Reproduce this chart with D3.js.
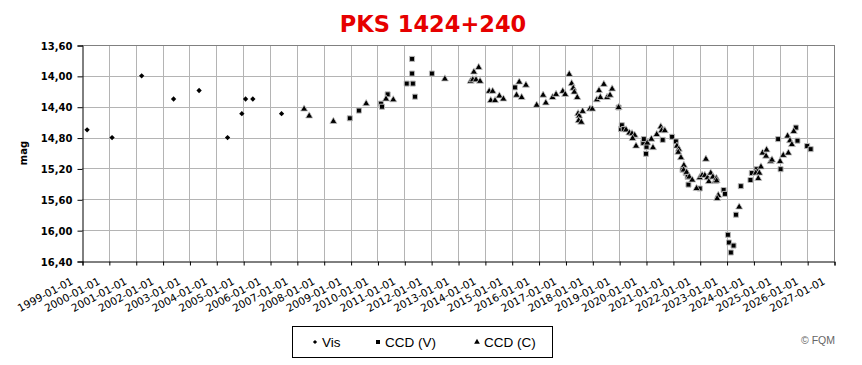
<!DOCTYPE html>
<html>
<head>
<meta charset="utf-8">
<script src="https://cdn.jsdelivr.net/npm/d3@7"></script>
<style>
  body { margin: 0; background: #fff; }
  svg { display: block; }
</style>
</head>
<body>
<svg width="862" height="365"></svg>
<script>
// values: [decimal year, magnitude]
const visData = [
  [1999.19, 14.70], [2000.12, 14.80], [2001.22, 14.00], [2002.41, 14.30], [2003.36, 14.19],
  [2004.42, 14.80], [2004.95, 14.49], [2005.09, 14.30], [2005.36, 14.30], [2006.43, 14.49]
];

const ccdV = [
  [2008.97, 14.55], [2009.31, 14.45], [2010.13, 14.36], [2010.17, 14.40], [2010.38, 14.24],
  [2011.09, 14.10], [2011.29, 13.78], [2011.29, 13.97], [2011.32, 14.10], [2011.40, 14.27],
  [2012.03, 13.97], [2015.12, 14.15], [2018.98, 14.41], [2019.07, 14.69], [2019.10, 14.64],
  [2019.17, 14.69], [2019.90, 14.87], [2019.92, 14.82], [2020.00, 15.01], [2020.02, 14.92],
  [2020.62, 14.83], [2020.97, 14.79], [2021.11, 14.85], [2021.36, 15.22], [2021.48, 15.26],
  [2021.55, 15.31], [2021.58, 15.41], [2022.00, 15.46], [2022.89, 15.48], [2022.94, 15.53],
  [2023.05, 16.06], [2023.09, 16.16], [2023.16, 16.29], [2023.26, 16.20], [2023.35, 15.80],
  [2023.53, 15.43], [2023.89, 15.35], [2023.94, 15.26], [2024.12, 15.21], [2024.92, 14.82],
  [2025.01, 15.21], [2025.58, 14.67], [2025.64, 14.84], [2026.00, 14.91], [2026.13, 14.95]
];

const ccdC = [
  [2007.27, 14.43], [2007.46, 14.52], [2008.36, 14.59], [2009.58, 14.36], [2010.32, 14.30],
  [2010.59, 14.31], [2012.51, 14.04], [2013.47, 14.07], [2013.55, 14.05], [2013.59, 13.95],
  [2013.67, 14.05], [2013.77, 13.89], [2013.82, 14.07], [2014.16, 14.20], [2014.29, 14.20],
  [2014.22, 14.32], [2014.38, 14.32], [2014.54, 14.26], [2014.69, 14.30], [2015.28, 14.08],
  [2015.18, 14.25], [2015.37, 14.28], [2015.53, 14.12], [2015.93, 14.38], [2016.17, 14.25],
  [2016.27, 14.35], [2016.52, 14.28], [2016.65, 14.24], [2016.90, 14.20], [2016.99, 14.24],
  [2017.14, 13.98], [2017.23, 14.10], [2017.29, 14.16], [2017.33, 14.21], [2017.44, 14.28],
  [2017.47, 14.49], [2017.51, 14.52], [2017.49, 14.58], [2017.59, 14.60], [2017.64, 14.46],
  [2017.91, 14.43], [2018.00, 14.43], [2018.17, 14.31], [2018.25, 14.19], [2018.30, 14.28],
  [2018.43, 14.11], [2018.55, 14.28], [2018.66, 14.25], [2018.74, 14.17], [2018.98, 14.41],
  [2019.26, 14.70], [2019.38, 14.74], [2019.48, 14.75], [2019.58, 14.77], [2019.50, 14.81],
  [2019.63, 14.91], [2020.05, 14.87], [2020.20, 14.82], [2020.26, 14.93], [2020.40, 14.76],
  [2020.55, 14.66], [2020.58, 14.71], [2020.70, 14.71], [2021.15, 14.91], [2021.22, 14.95],
  [2021.20, 14.99], [2021.30, 15.06], [2021.41, 15.16], [2021.40, 15.22], [2021.51, 15.25],
  [2021.61, 15.31], [2021.72, 15.35], [2021.88, 15.46], [2022.00, 15.32], [2022.09, 15.29],
  [2022.23, 15.08], [2022.19, 15.29], [2022.29, 15.32], [2022.41, 15.26], [2022.34, 15.37],
  [2022.49, 15.31], [2022.57, 15.37], [2022.62, 15.33], [2022.63, 15.36], [2022.69, 15.55],
  [2022.65, 15.59], [2023.47, 15.70], [2024.09, 15.26], [2024.22, 15.26], [2024.18, 15.33],
  [2024.28, 15.18], [2024.34, 15.00], [2024.49, 14.96], [2024.47, 15.04], [2024.64, 15.11],
  [2024.69, 15.09], [2024.99, 15.11], [2025.11, 15.03], [2025.30, 15.00], [2025.27, 14.78],
  [2025.36, 14.84], [2025.43, 14.89], [2025.50, 14.72]
];

const yTicks = [13.6, 14.0, 14.4, 14.8, 15.2, 15.6, 16.0, 16.4];
const legendLabels = ['Vis', 'CCD (V)', 'CCD (C)'];

const svg = d3.select('svg');

const plotLeft = 82, plotRight = 834, plotTop = 45, plotBottom = 261;

// decimal year -> Date
const toDate = v => {
  const yr = Math.floor(v);
  const a = Date.UTC(yr, 0, 1), b = Date.UTC(yr + 1, 0, 1);
  return new Date(a + (v - yr) * (b - a));
};

const x = d3.scaleUtc()
  .domain([new Date(Date.UTC(1999, 0, 1)), new Date(Date.UTC(2027, 0, 1))])
  .range([plotLeft, plotRight]);

const y = d3.scaleLinear().domain([13.6, 16.4]).range([plotTop, plotBottom]);

const years = d3.utcYear.range(new Date(Date.UTC(1999, 0, 1)), new Date(Date.UTC(2027, 0, 2)));

// title
svg.append('text')
  .attr('x', 433)
  .attr('y', 31.5)
  .attr('text-anchor', 'middle')
  .style('font-family', 'DejaVu Sans, Verdana, sans-serif')
  .style('font-weight', 'bold')
  .style('font-size', '22.5px')
  .style('fill', '#e60000')
  .text('PKS 1424+240');

// grid
const grid = svg.append('g').attr('class', 'grid');

grid.selectAll('line.v')
  .data(years.slice(1))
  .enter()
  .append('line')
  .attr('x1', d => Math.round(x(d)) + 0.5)
  .attr('x2', d => Math.round(x(d)) + 0.5)
  .attr('y1', plotTop)
  .attr('y2', plotBottom)
  .attr('stroke', d => d.getUTCFullYear() === 2027 ? '#808080' : '#b4b4b4');

grid.selectAll('line.h')
  .data(yTicks.slice(0, -1))
  .enter()
  .append('line')
  .attr('x1', plotLeft)
  .attr('x2', plotRight)
  .attr('y1', d => Math.round(y(d)) + 0.5)
  .attr('y2', d => Math.round(y(d)) + 0.5)
  .attr('stroke', d => d === 13.6 ? '#808080' : '#b4b4b4');

// y axis
const yAxis = d3.axisLeft(y)
  .tickValues(yTicks)
  .tickSize(5)
  .tickFormat(d => d3.format('.2f')(d).replace('.', ','));

const gy = svg.append('g')
  .attr('transform', `translate(${plotLeft + 0.5},0.5)`)
  .call(yAxis);

gy.select('.domain').attr('stroke', '#000');
gy.selectAll('.tick line').attr('stroke', '#000');
gy.selectAll('.tick text')
  .attr('x', -10)
  .attr('dy', '0.36em')
  .style('font-family', 'DejaVu Sans, Verdana, sans-serif')
  .style('font-weight', 'bold')
  .style('font-size', '10px')
  .style('fill', '#000');

svg.append('text')
  .attr('transform', `translate(27,${(plotTop + plotBottom) / 2}) rotate(-90)`)
  .attr('text-anchor', 'middle')
  .style('font-family', 'DejaVu Sans, Verdana, sans-serif')
  .style('font-weight', 'bold')
  .style('font-size', '10px')
  .text('mag');

// x axis
const xAxis = d3.axisBottom(x)
  .tickValues(years)
  .tickSize(4)
  .tickFormat(d3.utcFormat('%Y-%m-%d'));

const gx = svg.append('g')
  .attr('transform', `translate(0.5,${plotBottom + 0.5})`)
  .call(xAxis);

gx.select('.domain').attr('stroke', '#000');
gx.selectAll('.tick line').attr('stroke', '#000');
gx.selectAll('.tick text')
  .attr('x', 0)
  .attr('y', 0)
  .attr('dy', 0)
  .attr('text-anchor', 'end')
  .attr('transform', 'translate(-9,22) rotate(-28)')
  .style('font-family', 'DejaVu Sans, Verdana, sans-serif')
  .style('font-size', '10.5px')
  .style('fill', '#000');

// markers
const diamond = d3.symbol().type(d3.symbolSquare).size(14);
const square = d3.symbol().type(d3.symbolSquare).size(25);
const triangle = d3.symbol().type(d3.symbolTriangle).size(22);

const pts = svg.append('g').attr('class', 'points');

pts.selectAll('path.vis')
  .data(visData)
  .enter()
  .append('path')
  .attr('class', 'vis')
  .attr('d', diamond)
  .attr('transform', d => `translate(${x(toDate(d[0]))},${y(d[1])}) rotate(45)`)
  .attr('fill', '#000');

pts.selectAll('path.ccdv')
  .data(ccdV)
  .enter()
  .append('path')
  .attr('class', 'ccdv')
  .attr('d', square)
  .attr('transform', d => `translate(${x(toDate(d[0]))},${y(d[1])})`)
  .attr('fill', '#000')
  .attr('stroke', '#b8b8b8')
  .attr('stroke-width', 1);

pts.selectAll('path.ccdc')
  .data(ccdC)
  .enter()
  .append('path')
  .attr('class', 'ccdc')
  .attr('d', triangle)
  .attr('transform', d => `translate(${x(toDate(d[0]))},${y(d[1])})`)
  .attr('fill', '#000')
  .attr('stroke', '#c8c8c8')
  .attr('stroke-width', 0.8);

// legend
const legend = svg.append('g').attr('class', 'legend');

legend.append('rect')
  .attr('x', 292.5)
  .attr('y', 326.5)
  .attr('width', 260)
  .attr('height', 31)
  .attr('fill', '#fff')
  .attr('stroke', '#000');

const legendX = [315, 378, 477];
const legendSym = [diamond, square, triangle];

legend.selectAll('path')
  .data(legendLabels)
  .enter()
  .append('path')
  .attr('d', (d, i) => legendSym[i]())
  .attr('transform', (d, i) => `translate(${legendX[i]},342) scale(0.8)` + (i === 0 ? ' rotate(45)' : ''))
  .attr('fill', '#000');

legend.selectAll('text')
  .data(legendLabels)
  .enter()
  .append('text')
  .attr('x', (d, i) => legendX[i] + 7)
  .attr('y', 347)
  .style('font-family', 'Liberation Sans, Arial, sans-serif')
  .style('font-size', '13.5px')
  .text(d => d);

svg.append('text')
  .attr('x', 835)
  .attr('y', 344)
  .attr('text-anchor', 'end')
  .style('font-family', 'Liberation Sans, Arial, sans-serif')
  .style('font-size', '10.5px')
  .style('fill', '#666')
  .text('\u00a9 FQM');
</script>
</body>
</html>
